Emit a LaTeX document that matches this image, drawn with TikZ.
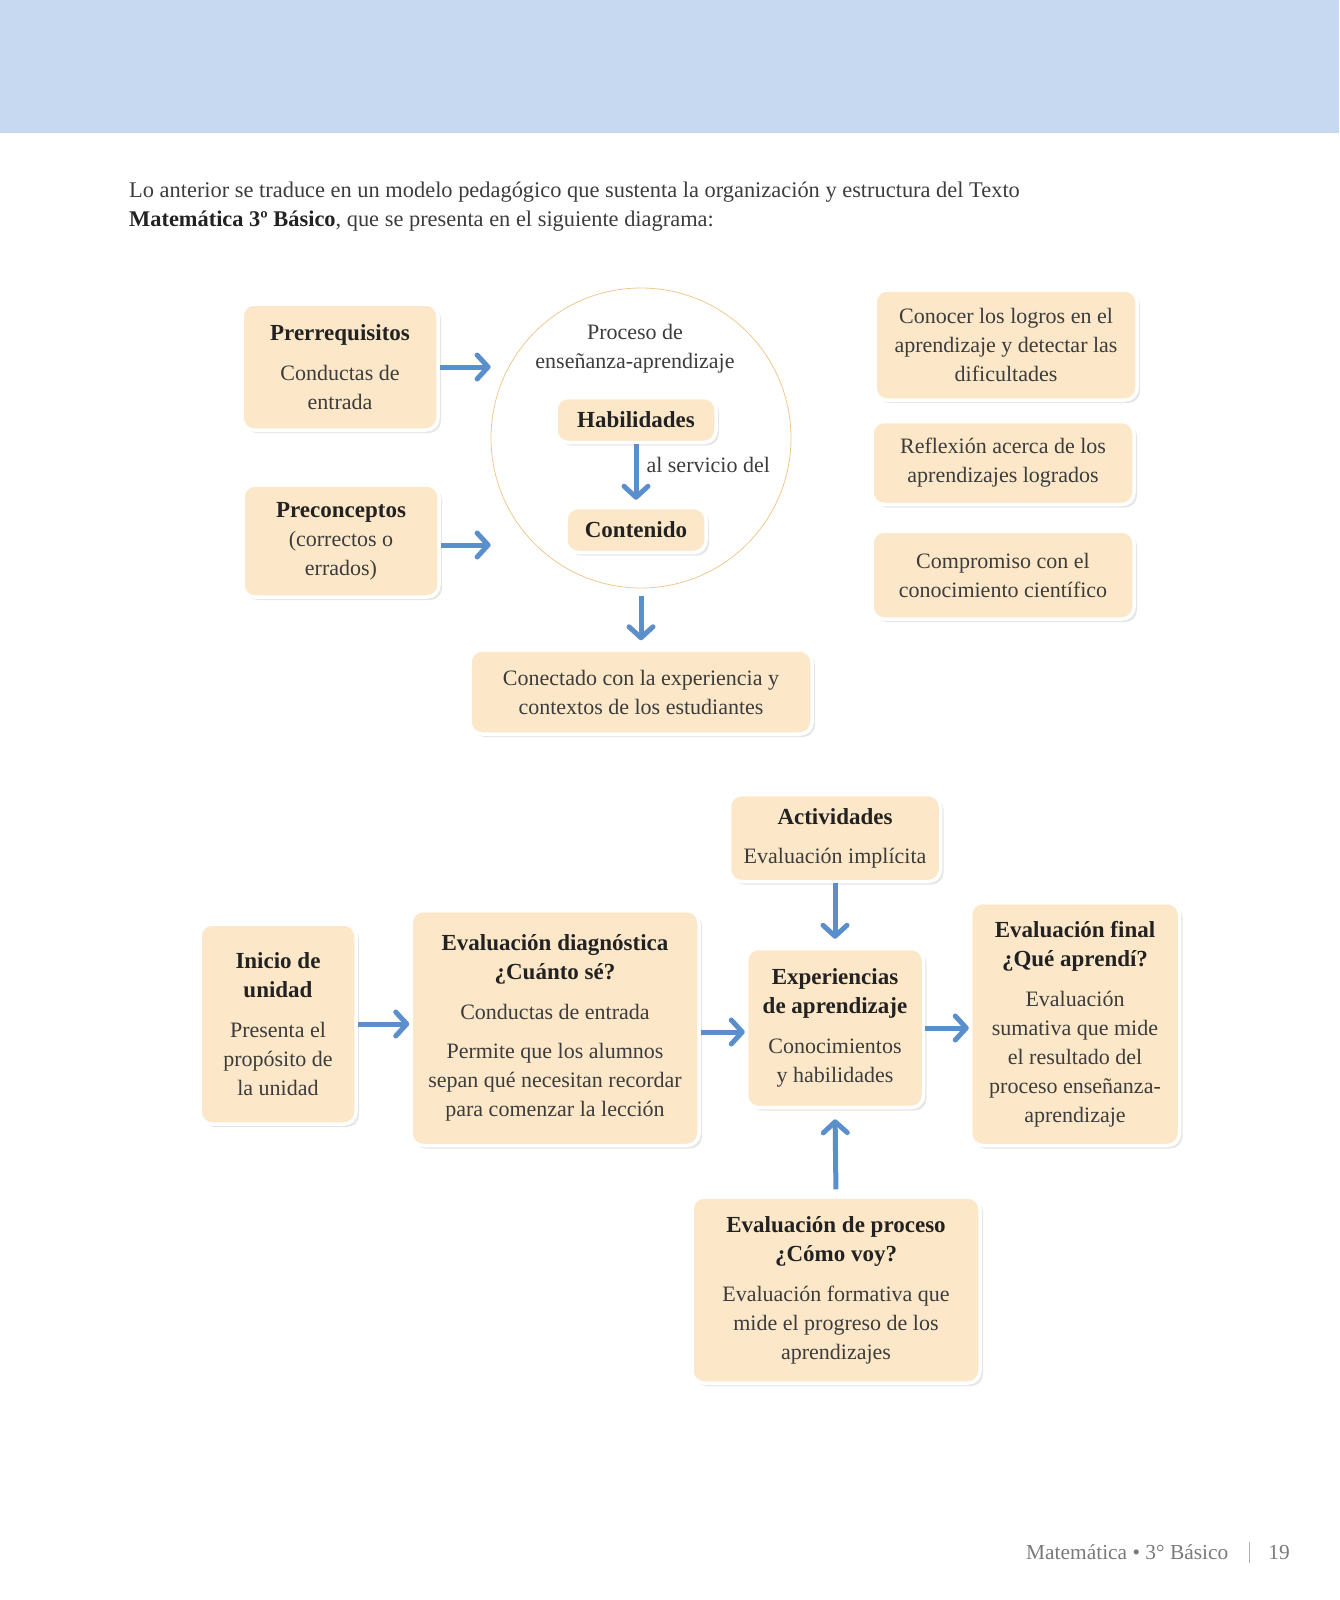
\documentclass[tikz,border=0pt]{standalone}
\usepackage{fontspec}
\setmainfont{Liberation Serif}
\usepackage{tikz}
\usetikzlibrary{shadows,arrows.meta}

\definecolor{banda}{HTML}{C6D9F0}
\definecolor{durazno}{HTML}{FCE8C9}
\definecolor{azul}{HTML}{5A8FCC}
\definecolor{borde}{HTML}{F0C78F}
\definecolor{texto}{HTML}{3C3C3C}
\definecolor{titulo}{HTML}{222222}
\definecolor{pie}{HTML}{7A7A7A}

\newcommand{\negrita}[1]{{\fontsize{23}{28}\selectfont\bfseries\color{titulo}#1}}

\tikzset{
	caja/.style={rectangle, rounded corners=12pt, fill=durazno, draw=white, line width=3.5pt,
		drop shadow={shadow xshift=3pt, shadow yshift=-3pt, opacity=0.2},
		align=center, text=texto, inner sep=6pt, font=\fontsize{22}{29}\selectfont},
	flecha/.style={draw=azul, line width=5pt, -{Straight Barb[length=11pt,width=24pt,round]}},
	letra/.style={text=texto, font=\fontsize{22}{29}\selectfont, align=center},
}

\begin{document}
\begin{tikzpicture}[x=1pt,y=-1pt]
		\useasboundingbox (0,0) rectangle (1339,1600);
		\fill[banda] (0,0) rectangle (1339,133);
		\node[anchor=west, text=texto, font=\fontsize{22.4}{28}\selectfont, inner sep=0pt] (intro1) at (129,192) {Lo anterior se traduce en un modelo pedagógico que sustenta la organización y estructura del Texto};
		\node[anchor=west, text=texto, font=\fontsize{22.4}{28}\selectfont, inner sep=0pt] (intro2) at (129,221) {{\bfseries\color{titulo}Matemática 3º Básico}, que se presenta en el siguiente diagrama:};

		\node[caja, minimum width=196, minimum height=126] (prer) at (340,367) {\negrita{Prerrequisitos}\\[11pt]Conductas de\\entrada};
		\node[caja, minimum width=196, minimum height=112] (prec) at (341,541) {\negrita{Preconceptos}\\(correctos o\\errados)};
		\node[circle, draw=borde, line width=0.8pt, minimum size=300] (proc) at (641,438) {};
		\node[letra] (proctxt) at (635,349) {Proceso de\\enseñanza-aprendizaje};
		\node[caja, minimum width=160, minimum height=45] (hab) at (636,420) {\negrita{Habilidades}};
		\node[caja, minimum width=140, minimum height=45] (cont) at (636,530) {\negrita{Contenido}};
		\node[letra, anchor=west] (serv) at (643,465) {al servicio del};
		\node[caja, minimum width=342, minimum height=84] (conec) at (641,692) {Conectado con la experiencia y\\contextos de los estudiantes};

		\node[caja, minimum width=262, minimum height=110] (logros) at (1006,345) {Conocer los logros en el\\aprendizaje y detectar las\\dificultades};
		\node[caja, minimum width=262, minimum height=83] (refl) at (1003,463) {Reflexión acerca de los\\aprendizajes logrados};
		\node[caja, minimum width=262, minimum height=88] (comp) at (1003,575) {Compromiso con el\\conocimiento científico};

		\draw[flecha] (prer.east) -- (prer.east -| proc.west);
		\draw[flecha] ([yshift=-4pt]prec.east) -- ([yshift=-4pt]prec.east -| proc.west);
		\draw[flecha, shorten >=6pt] (hab.south) -- (cont.north);
		\draw[flecha, shorten <=8pt, shorten >=8pt] (proc.south) -- (conec.north);

		\node[caja, minimum width=211, minimum height=87] (act) at (835,838) {\negrita{Actividades}\\[10pt]Evaluación implícita};
		\node[caja, minimum width=177, minimum height=159] (exp) at (835,1028) {\negrita{Experiencias}\\\negrita{de aprendizaje}\\[11pt]Conocimientos\\y habilidades};
		\node[caja, minimum width=156, minimum height=200] (ini) at (278,1024) {\negrita{Inicio de}\\\negrita{unidad}\\[11pt]Presenta el\\propósito de\\la unidad};
		\node[caja, minimum width=288, minimum height=235] (diag) at (555,1028) {\negrita{Evaluación diagnóstica}\\\negrita{¿Cuánto sé?}\\[11pt]Conductas de entrada\\[10pt]Permite que los alumnos\\sepan qué necesitan recordar\\para comenzar la lección};
		\node[caja, minimum width=209, minimum height=243] (fin) at (1075,1024) {\negrita{Evaluación final}\\\negrita{¿Qué aprendí?}\\[11pt]Evaluación\\sumativa que mide\\el resultado del\\proceso enseñanza-\\aprendizaje};
		\node[caja, minimum width=288, minimum height=186] (eproc) at (836,1290) {\negrita{Evaluación de proceso}\\\negrita{¿Cómo voy?}\\[11pt]Evaluación formativa que\\mide el progreso de los\\aprendizajes};

		\draw[flecha] (ini.east) -- (ini.east -| diag.west);
		\draw[flecha] ([yshift=-4pt]diag.east) -- ([yshift=-4pt]diag.east -| exp.west);
		\draw[flecha] (exp.east) -- (exp.east -| fin.west);
		\draw[flecha, shorten >=8pt] (act.south) -- (exp.north);
		\draw[flecha, shorten <=6pt, shorten >=10pt] (eproc.north) -- (exp.south);

		\node[anchor=west, text=pie, font=\fontsize{21.4}{24}\selectfont, inner sep=0pt] (pie1) at (1026,1552) {Matemática • 3° Básico};
		\node[text=pie, font=\fontsize{21.4}{24}\selectfont, inner sep=0pt] (pag) at (1279,1552) {19};
		\draw[pie!60, line width=0.8pt] (1249,1542) -- (1249,1563);
	\end{tikzpicture}
\end{document}
